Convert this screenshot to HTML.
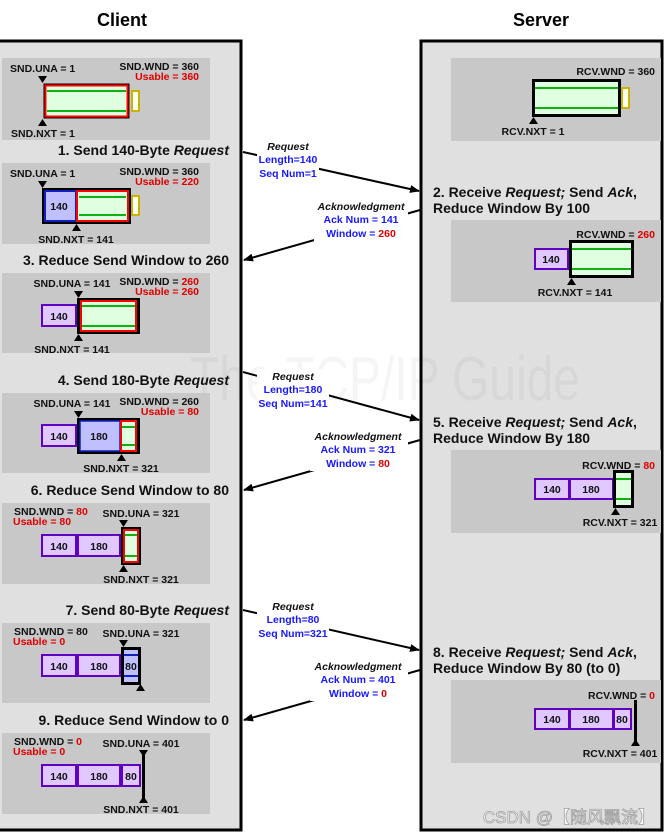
<!DOCTYPE html>
<html><head><meta charset="utf-8"><style>
html,body{margin:0;padding:0;background:#fff;}
svg{display:block;font-family:"Liberation Sans",Arial,sans-serif;font-weight:bold;}
.l{font-size:10.5px;fill:#111;}
.r{fill:#e00000;}
.b{fill:#1818ff;}
.t{font-size:14px;fill:#111;}
.lb{font-size:10.5px;}
</style></head><body>
<svg width="666" height="836" viewBox="0 0 666 836" xmlns="http://www.w3.org/2000/svg">
<defs>
<marker id="ah" markerWidth="10" markerHeight="8" refX="9" refY="4" orient="auto" markerUnits="userSpaceOnUse">
<path d="M0,0 L10,4 L0,8 Z" fill="#000"/></marker>
</defs>
<text x="122" y="26" text-anchor="middle" style="font-size:18px" fill="#000">Client</text>
<text x="541" y="26" text-anchor="middle" style="font-size:18px" fill="#000">Server</text>
<rect x="0" y="41" width="241" height="789" fill="#e0e0e0"/>
<path d="M0,41 H241 V830 H0" fill="none" stroke="#000" stroke-width="3"/>
<rect x="421" y="41" width="241" height="789" fill="#e0e0e0" stroke="#000" stroke-width="3"/>
<text x="190" y="400" textLength="390" lengthAdjust="spacingAndGlyphs" style="font-size:62px;font-weight:normal" fill="#000" opacity="0.035">The TCP/IP Guide</text>
<g fill="#c8c8c8">
<rect x="2" y="58" width="208" height="82"/>
<rect x="2" y="163" width="208" height="81"/>
<rect x="2" y="273" width="208" height="80"/>
<rect x="2" y="393" width="208" height="80"/>
<rect x="2" y="503" width="208" height="81"/>
<rect x="2" y="623" width="208" height="80"/>
<rect x="2" y="733" width="208" height="81"/>
<rect x="451" y="58" width="210" height="83"/>
<rect x="451" y="220" width="210" height="82"/>
<rect x="451" y="450" width="210" height="83"/>
<rect x="451" y="680" width="210" height="83"/>
</g>
<text class="t" x="229" y="155" text-anchor="end">1. Send 140-Byte <tspan font-style="italic">Request</tspan></text>
<text class="t" x="229" y="265" text-anchor="end">3. Reduce Send Window to 260</text>
<text class="t" x="229" y="385" text-anchor="end">4. Send 180-Byte <tspan font-style="italic">Request</tspan></text>
<text class="t" x="229" y="495" text-anchor="end">6. Reduce Send Window to 80</text>
<text class="t" x="229" y="615" text-anchor="end">7. Send 80-Byte <tspan font-style="italic">Request</tspan></text>
<text class="t" x="229" y="725" text-anchor="end">9. Reduce Send Window to 0</text>
<text class="t" x="433" y="197">2. Receive <tspan font-style="italic">Request;</tspan> Send <tspan font-style="italic">Ack</tspan>,</text>
<text class="t" x="433" y="213">Reduce Window By 100</text>
<text class="t" x="433" y="427">5. Receive <tspan font-style="italic">Request;</tspan> Send <tspan font-style="italic">Ack</tspan>,</text>
<text class="t" x="433" y="443">Reduce Window By 180</text>
<text class="t" x="433" y="657">8. Receive <tspan font-style="italic">Request;</tspan> Send <tspan font-style="italic">Ack</tspan>,</text>
<text class="t" x="433" y="673">Reduce Window By 80 (to 0)</text>

<g stroke="#000" stroke-width="2" fill="none" marker-end="url(#ah)">
<line x1="243" y1="152" x2="419" y2="191"/>
<line x1="420" y1="210" x2="244" y2="260"/>
<line x1="243" y1="372" x2="419" y2="420"/>
<line x1="420" y1="440" x2="244" y2="490"/>
<line x1="243" y1="610" x2="419" y2="650"/>
<line x1="420" y1="670" x2="244" y2="720"/>
</g>
<g fill="#fff">
<rect x="257" y="139" width="62" height="42"/>
<rect x="314" y="199" width="94" height="42"/>
<rect x="257" y="369" width="72" height="42"/>
<rect x="310" y="429" width="98" height="42"/>
<rect x="257" y="599" width="72" height="42"/>
<rect x="310" y="659" width="98" height="42"/>
</g>
<g class="lb" text-anchor="middle">
<text x="288" y="150" font-style="italic" fill="#111">Request</text>
<text x="288" y="163" class="b">Length=140</text>
<text x="288" y="177" class="b">Seq Num=1</text>
<text x="361" y="210" font-style="italic" fill="#111">Acknowledgment</text>
<text x="361" y="223" class="b">Ack Num = 141</text>
<text x="361" y="237" class="b">Window = <tspan class="r">260</tspan></text>
<text x="293" y="380" font-style="italic" fill="#111">Request</text>
<text x="293" y="393" class="b">Length=180</text>
<text x="293" y="407" class="b">Seq Num=141</text>
<text x="358" y="440" font-style="italic" fill="#111">Acknowledgment</text>
<text x="358" y="453" class="b">Ack Num = 321</text>
<text x="358" y="467" class="b">Window = <tspan class="r">80</tspan></text>
<text x="293" y="610" font-style="italic" fill="#111">Request</text>
<text x="293" y="623" class="b">Length=80</text>
<text x="293" y="637" class="b">Seq Num=321</text>
<text x="358" y="670" font-style="italic" fill="#111">Acknowledgment</text>
<text x="358" y="683" class="b">Ack Num = 401</text>
<text x="358" y="697" class="b">Window = <tspan class="r">0</tspan></text>
</g>

<g class="l">
<text x="10" y="72">SND.UNA = 1</text>
<text x="199" y="70" text-anchor="end">SND.WND = 360</text>
<text x="199" y="80" text-anchor="end" class="r">Usable = 360</text>
<text x="11" y="137">SND.NXT = 1</text>
<text x="10" y="177">SND.UNA = 1</text>
<text x="199" y="175" text-anchor="end">SND.WND = 360</text>
<text x="199" y="185" text-anchor="end" class="r">Usable = 220</text>
<text x="76" y="243" text-anchor="middle">SND.NXT = 141</text>
<text x="72" y="287" text-anchor="middle">SND.UNA = 141</text>
<text x="199" y="285" text-anchor="end">SND.WND = <tspan class="r">260</tspan></text>
<text x="199" y="295" text-anchor="end" class="r">Usable = 260</text>
<text x="72" y="353" text-anchor="middle">SND.NXT = 141</text>
<text x="72" y="407" text-anchor="middle">SND.UNA = 141</text>
<text x="199" y="405" text-anchor="end">SND.WND = 260</text>
<text x="199" y="415" text-anchor="end" class="r">Usable = 80</text>
<text x="121" y="472" text-anchor="middle">SND.NXT = 321</text>
<text x="14" y="515">SND.WND = <tspan class="r">80</tspan></text>
<text x="13" y="525" class="r">Usable = 80</text>
<text x="141" y="517" text-anchor="middle">SND.UNA = 321</text>
<text x="141" y="583" text-anchor="middle">SND.NXT = 321</text>
<text x="14" y="635">SND.WND = 80</text>
<text x="13" y="645" class="r">Usable = 0</text>
<text x="141" y="637" text-anchor="middle">SND.UNA = 321</text>
<text x="14" y="745">SND.WND = <tspan class="r">0</tspan></text>
<text x="13" y="755" class="r">Usable = 0</text>
<text x="141" y="747" text-anchor="middle">SND.UNA = 401</text>
<text x="141" y="813" text-anchor="middle">SND.NXT = 401</text>
</g>

<rect x="43.5" y="83.5" width="86" height="35" fill="#000"/>
<rect x="45.5" y="85.5" width="82" height="31" fill="#e0ffe0" stroke="#f00" stroke-width="2"/>
<line x1="47" y1="91" x2="126" y2="91" stroke="#10b010" stroke-width="2"/>
<line x1="47" y1="111" x2="126" y2="111" stroke="#10b010" stroke-width="2"/>
<rect x="132" y="91" width="7" height="20" fill="#fffff0" stroke="#c8b400" stroke-width="2"/>
<rect x="42" y="188" width="89" height="36" fill="#000"/>
<rect x="45" y="191" width="31" height="30" fill="#c0c0ff" stroke="#1020c0" stroke-width="2"/>
<rect x="77" y="191" width="51" height="30" fill="#e0ffe0" stroke="#f00" stroke-width="2"/>
<line x1="79" y1="197" x2="126" y2="197" stroke="#10b010" stroke-width="2"/>
<line x1="79" y1="215" x2="126" y2="215" stroke="#10b010" stroke-width="2"/>
<rect x="132" y="196" width="7" height="19" fill="#fffff0" stroke="#c8b400" stroke-width="2"/>
<text class="l" x="59" y="210" text-anchor="middle">140</text>
<rect x="42" y="305" width="34" height="21" fill="#e0c8ff" stroke="#6000c0" stroke-width="2"/>
<text class="l" x="59" y="320" text-anchor="middle">140</text>
<rect x="77" y="298" width="63" height="36" fill="#000"/>
<rect x="81" y="301" width="55" height="30" fill="#e0ffe0" stroke="#f00" stroke-width="2"/>
<line x1="82" y1="306" x2="135" y2="306" stroke="#10b010" stroke-width="2"/>
<line x1="82" y1="326" x2="135" y2="326" stroke="#10b010" stroke-width="2"/>
<rect x="42" y="425" width="34" height="21" fill="#e0c8ff" stroke="#6000c0" stroke-width="2"/>
<text class="l" x="59" y="440" text-anchor="middle">140</text>
<rect x="77" y="418" width="63" height="36" fill="#000"/>
<rect x="80" y="421" width="40" height="30" fill="#c0c0ff" stroke="#1020c0" stroke-width="1.5"/>
<text class="l" x="99" y="440" text-anchor="middle">180</text>
<rect x="121" y="421" width="15" height="30" fill="#e0ffe0" stroke="#f00" stroke-width="2"/>
<line x1="122" y1="427" x2="135" y2="427" stroke="#10b010" stroke-width="2"/>
<line x1="122" y1="445" x2="135" y2="445" stroke="#10b010" stroke-width="2"/>
<rect x="42" y="535" width="34" height="21" fill="#e0c8ff" stroke="#6000c0" stroke-width="2"/>
<text class="l" x="59" y="550" text-anchor="middle">140</text>
<rect x="78" y="535" width="42" height="21" fill="#e0c8ff" stroke="#6000c0" stroke-width="2"/>
<text class="l" x="99" y="550" text-anchor="middle">180</text>
<rect x="121" y="527" width="20" height="38" fill="#000"/>
<rect x="124" y="530" width="14" height="32" fill="#e0ffe0" stroke="#f00" stroke-width="2"/>
<line x1="125" y1="535" x2="137" y2="535" stroke="#10b010" stroke-width="2"/>
<line x1="125" y1="556" x2="137" y2="556" stroke="#10b010" stroke-width="2"/>
<rect x="42" y="655" width="34" height="21" fill="#e0c8ff" stroke="#6000c0" stroke-width="2"/>
<text class="l" x="59" y="670" text-anchor="middle">140</text>
<rect x="78" y="655" width="42" height="21" fill="#e0c8ff" stroke="#6000c0" stroke-width="2"/>
<text class="l" x="99" y="670" text-anchor="middle">180</text>
<rect x="122.5" y="648.5" width="17" height="35" fill="#c0c0ff" stroke="#000" stroke-width="3"/>
<line x1="124" y1="655" x2="138" y2="655" stroke="#1020c0" stroke-width="2"/>
<line x1="124" y1="676" x2="138" y2="676" stroke="#1020c0" stroke-width="2"/>
<text class="l" x="131" y="670" text-anchor="middle">80</text>
<rect x="42" y="765" width="34" height="21" fill="#e0c8ff" stroke="#6000c0" stroke-width="2"/>
<text class="l" x="59" y="780" text-anchor="middle">140</text>
<rect x="78" y="765" width="42" height="21" fill="#e0c8ff" stroke="#6000c0" stroke-width="2"/>
<text class="l" x="99" y="780" text-anchor="middle">180</text>
<rect x="122" y="765" width="18" height="21" fill="#e0c8ff" stroke="#6000c0" stroke-width="2"/>
<text class="l" x="131" y="780" text-anchor="middle">80</text>
<rect x="142" y="752" width="3" height="48" fill="#000"/>

<g fill="#000">
<path d="M38,76 h9 l-4.5,7 z"/><path d="M38,126 h9 l-4.5,-7 z"/>
<path d="M38,181 h9 l-4.5,7 z"/><path d="M72,231 h9 l-4.5,-7 z"/>
<path d="M74,291 h9 l-4.5,7 z"/><path d="M74,341 h9 l-4.5,-7 z"/>
<path d="M74,411 h9 l-4.5,7 z"/><path d="M117,461 h9 l-4.5,-7 z"/>
<path d="M119,520 h9 l-4.5,7 z"/><path d="M119,572 h9 l-4.5,-7 z"/>
<path d="M119,640 h9 l-4.5,7 z"/><path d="M136,691 h9 l-4.5,-7 z"/>
<path d="M139,750 h9 l-4.5,7 z"/><path d="M139,803 h9 l-4.5,-7 z"/>
</g>

<g class="l">
<text x="655" y="75" text-anchor="end">RCV.WND = 360</text>
<text x="533" y="135" text-anchor="middle">RCV.NXT = 1</text>
<text x="655" y="238" text-anchor="end">RCV.WND = <tspan class="r">260</tspan></text>
<text x="575" y="296" text-anchor="middle">RCV.NXT = 141</text>
<text x="655" y="469" text-anchor="end">RCV.WND = <tspan class="r">80</tspan></text>
<text x="620" y="526" text-anchor="middle">RCV.NXT = 321</text>
<text x="655" y="699" text-anchor="end">RCV.WND = <tspan class="r">0</tspan></text>
<text x="620" y="757" text-anchor="middle">RCV.NXT = 401</text>
</g>
<rect x="533.5" y="80.5" width="86" height="35" fill="#e0ffe0" stroke="#000" stroke-width="3"/>
<line x1="535" y1="88" x2="618" y2="88" stroke="#10b010" stroke-width="2"/>
<line x1="535" y1="108" x2="618" y2="108" stroke="#10b010" stroke-width="2"/>
<rect x="622" y="88" width="7" height="20" fill="#fffff0" stroke="#c8b400" stroke-width="2"/>
<rect x="535" y="249" width="33" height="20" fill="#e0c8ff" stroke="#6000c0" stroke-width="2"/>
<text class="l" x="551" y="263" text-anchor="middle">140</text>
<rect x="570.5" y="241.5" width="62" height="35" fill="#e0ffe0" stroke="#000" stroke-width="3"/>
<line x1="572" y1="249" x2="631" y2="249" stroke="#10b010" stroke-width="2"/>
<line x1="572" y1="269" x2="631" y2="269" stroke="#10b010" stroke-width="2"/>
<rect x="535" y="479" width="34" height="20" fill="#e0c8ff" stroke="#6000c0" stroke-width="2"/>
<text class="l" x="552" y="493" text-anchor="middle">140</text>
<rect x="570" y="479" width="43" height="20" fill="#e0c8ff" stroke="#6000c0" stroke-width="2"/>
<text class="l" x="591" y="493" text-anchor="middle">180</text>
<rect x="614.5" y="471.5" width="18" height="35" fill="#e0ffe0" stroke="#000" stroke-width="3"/>
<line x1="616" y1="479" x2="631" y2="479" stroke="#10b010" stroke-width="2"/>
<line x1="616" y1="499" x2="631" y2="499" stroke="#10b010" stroke-width="2"/>
<rect x="535" y="709" width="34" height="20" fill="#e0c8ff" stroke="#6000c0" stroke-width="2"/>
<text class="l" x="552" y="723" text-anchor="middle">140</text>
<rect x="570" y="709" width="43" height="20" fill="#e0c8ff" stroke="#6000c0" stroke-width="2"/>
<text class="l" x="591" y="723" text-anchor="middle">180</text>
<rect x="614" y="709" width="17" height="20" fill="#e0c8ff" stroke="#6000c0" stroke-width="2"/>
<text class="l" x="622" y="723" text-anchor="middle">80</text>
<rect x="634" y="700" width="3" height="42" fill="#000"/>
<g fill="#000">
<path d="M529,124 h9 l-4.5,-7 z"/>
<path d="M567,285 h9 l-4.5,-7 z"/>
<path d="M611,515 h9 l-4.5,-7 z"/>
<path d="M631,746 h9 l-4.5,-7 z"/>
</g>
<text x="655" y="823" text-anchor="end" style="font-size:17px;font-weight:normal;font-family:'Liberation Sans','Noto Sans CJK SC',sans-serif" fill="#fff" stroke="#999" stroke-width="0.8" opacity="0.9">CSDN @【随风飘流】</text>
</svg>
</body></html>
